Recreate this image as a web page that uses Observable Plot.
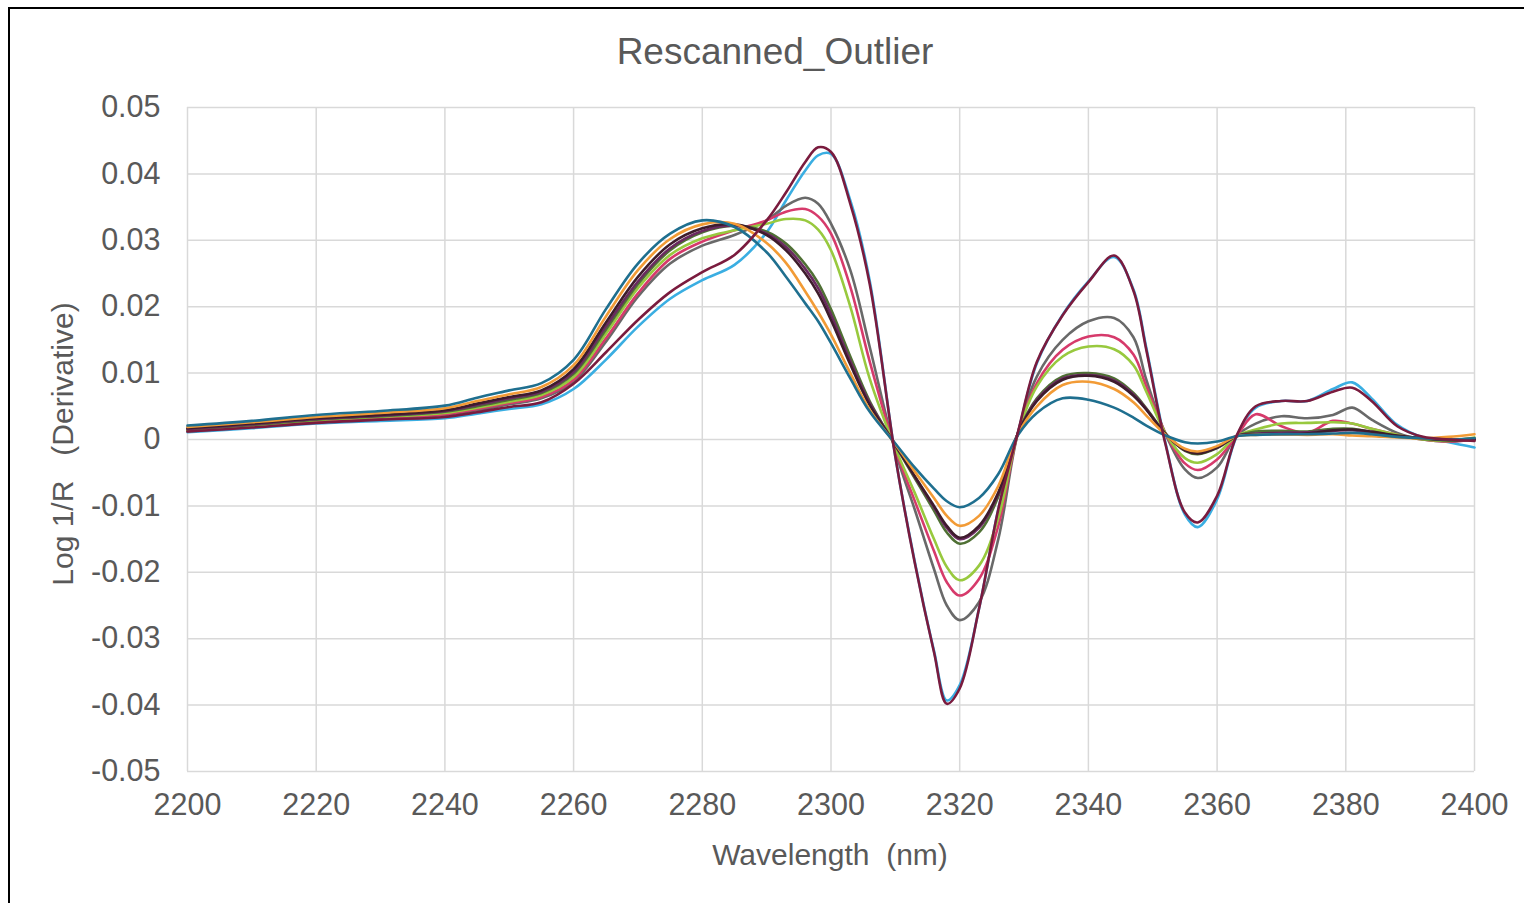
<!DOCTYPE html>
<html><head><meta charset="utf-8">
<script src="https://cdn.jsdelivr.net/npm/d3@7"></script>
<script src="https://cdn.jsdelivr.net/npm/@observablehq/plot@0.6"></script>
<style>
html,body{margin:0;padding:0;background:#fff;overflow:hidden;width:1524px;height:903px}
#frame{position:absolute;left:8px;top:7px;width:1600px;height:1000px;border:2px solid #000;box-sizing:border-box}
#chart{position:absolute;left:0;top:0}
.t{position:absolute;font-family:"Liberation Sans",Arial,sans-serif;color:#595959;white-space:pre}
</style></head><body>
<div id="frame"></div>
<div id="chart"></div>
<div class="t" style="left:0;width:1550px;text-align:center;top:31px;font-size:37px">Rescanned_Outlier</div>
<div class="t" style="left:530px;width:600px;text-align:center;top:838px;font-size:30px">Wavelength  (nm)</div>
<div class="t" style="left:63px;top:444px;font-size:30px;transform:translate(-50%,-50%) rotate(-90deg)">Log 1/R   (Derivative)</div>
<script>
const wavelengths = [2200,2210,2220,2230,2240,2245,2250,2255,2260,2265,2270,2275,2280,2285,2290,2293,2296,2298,2300,2303,2306,2310,2313,2316,2318,2320,2323,2326,2329,2332,2336,2340,2344,2347,2349,2352,2355,2357,2360,2363,2366,2370,2374,2378,2381,2384,2388,2392,2396,2400];

const xTicks = [2200,2220,2240,2260,2280,2300,2320,2340,2360,2380,2400];
const yTicks = [-0.05,-0.04,-0.03,-0.02,-0.01,0,0.01,0.02,0.03,0.04,0.05];

const lightBlue = [0.0011,0.0017,0.0024,0.0028,0.0032,0.0039,0.0046,0.0053,0.0076,0.0120,0.0170,0.0212,0.0240,0.0263,0.0312,0.0360,0.0405,0.0428,0.0430,0.0360,0.0240,-0.0026,-0.0183,-0.0318,-0.0393,-0.0370,-0.0255,-0.0105,0.0008,0.0115,0.0188,0.0238,0.0275,0.0226,0.0138,-0.0006,-0.0113,-0.0132,-0.0090,0.0004,0.0048,0.0058,0.0058,0.0076,0.0086,0.0062,0.0022,0.0003,-0.0004,-0.0012];
const gray = [0.0012,0.0019,0.0027,0.0032,0.0037,0.0044,0.0053,0.0062,0.0087,0.0147,0.0215,0.0265,0.0292,0.0308,0.0330,0.0352,0.0364,0.0355,0.0325,0.0255,0.0140,-0.0018,-0.0105,-0.0195,-0.0250,-0.0272,-0.0245,-0.0150,0.0008,0.0095,0.0150,0.0178,0.0183,0.0154,0.0090,0.0008,-0.0045,-0.0058,-0.0042,0.0005,0.0024,0.0035,0.0032,0.0037,0.0048,0.0030,0.0010,0.0000,-0.0003,0.0000];
const crimson = [0.0013,0.0020,0.0028,0.0033,0.0038,0.0046,0.0055,0.0064,0.0090,0.0152,0.0220,0.0272,0.0298,0.0315,0.0330,0.0343,0.0347,0.0336,0.0310,0.0230,0.0118,-0.0015,-0.0092,-0.0168,-0.0215,-0.0235,-0.0210,-0.0130,0.0008,0.0085,0.0135,0.0155,0.0154,0.0128,0.0080,0.0009,-0.0036,-0.0046,-0.0030,0.0005,0.0038,0.0020,0.0010,0.0028,0.0024,0.0016,0.0007,0.0000,-0.0003,0.0000];
const lightGreen = [0.0014,0.0021,0.0029,0.0034,0.0040,0.0048,0.0057,0.0067,0.0094,0.0159,0.0228,0.0278,0.0303,0.0315,0.0325,0.0332,0.0330,0.0316,0.0285,0.0200,0.0092,-0.0013,-0.0080,-0.0150,-0.0192,-0.0212,-0.0190,-0.0118,0.0008,0.0080,0.0125,0.0140,0.0136,0.0112,0.0072,0.0009,-0.0028,-0.0035,-0.0022,0.0005,0.0015,0.0024,0.0025,0.0026,0.0024,0.0016,0.0007,0.0000,-0.0002,0.0003];
const darkGreen = [0.0015,0.0022,0.0030,0.0035,0.0042,0.0050,0.0060,0.0070,0.0099,0.0165,0.0234,0.0285,0.0312,0.0322,0.0313,0.0295,0.0264,0.0236,0.0196,0.0125,0.0058,-0.0009,-0.0058,-0.0107,-0.0140,-0.0157,-0.0140,-0.0086,0.0008,0.0062,0.0095,0.0100,0.0092,0.0070,0.0047,0.0009,-0.0017,-0.0022,-0.0013,0.0005,0.0012,0.0013,0.0012,0.0016,0.0016,0.0011,0.0005,0.0001,-0.0001,0.0000];
const darkPurple = [0.0016,0.0023,0.0031,0.0036,0.0043,0.0052,0.0062,0.0072,0.0102,0.0170,0.0238,0.0288,0.0314,0.0322,0.0310,0.0290,0.0257,0.0228,0.0188,0.0118,0.0055,-0.0008,-0.0056,-0.0102,-0.0133,-0.0150,-0.0133,-0.0082,0.0008,0.0060,0.0092,0.0097,0.0089,0.0068,0.0046,0.0008,-0.0016,-0.0020,-0.0012,0.0005,0.0009,0.0010,0.0011,0.0013,0.0014,0.0010,0.0005,0.0002,0.0000,0.0001];
const darkBrown = [0.0017,0.0024,0.0032,0.0037,0.0044,0.0054,0.0064,0.0074,0.0106,0.0176,0.0245,0.0294,0.0318,0.0324,0.0308,0.0285,0.0250,0.0220,0.0180,0.0113,0.0052,-0.0008,-0.0055,-0.0100,-0.0130,-0.0148,-0.0130,-0.0080,0.0008,0.0058,0.0090,0.0096,0.0087,0.0066,0.0045,0.0008,-0.0016,-0.0021,-0.0012,0.0005,0.0008,0.0008,0.0009,0.0014,0.0015,0.0012,0.0006,0.0002,-0.0001,0.0000];
const orange = [0.0019,0.0026,0.0034,0.0040,0.0047,0.0058,0.0068,0.0079,0.0112,0.0185,0.0255,0.0302,0.0324,0.0325,0.0296,0.0266,0.0223,0.0192,0.0158,0.0100,0.0045,-0.0007,-0.0048,-0.0088,-0.0115,-0.0130,-0.0115,-0.0070,0.0007,0.0050,0.0082,0.0087,0.0076,0.0056,0.0036,0.0007,-0.0014,-0.0018,-0.0010,0.0005,0.0007,0.0008,0.0007,0.0008,0.0006,0.0005,0.0003,0.0002,0.0004,0.0008];
const teal = [0.0021,0.0028,0.0037,0.0043,0.0051,0.0063,0.0074,0.0085,0.0120,0.0196,0.0265,0.0310,0.0330,0.0320,0.0282,0.0245,0.0205,0.0178,0.0145,0.0092,0.0042,-0.0006,-0.0042,-0.0074,-0.0093,-0.0102,-0.0088,-0.0052,0.0006,0.0040,0.0062,0.0060,0.0048,0.0033,0.0021,0.0006,-0.0004,-0.0006,-0.0003,0.0005,0.0007,0.0008,0.0008,0.0009,0.0010,0.0008,0.0004,0.0002,0.0000,0.0002];
const maroon = [0.0012,0.0018,0.0025,0.0030,0.0034,0.0041,0.0049,0.0056,0.0084,0.0131,0.0180,0.0222,0.0252,0.0278,0.0330,0.0372,0.0418,0.0440,0.0433,0.0355,0.0235,-0.0026,-0.0185,-0.0320,-0.0398,-0.0375,-0.0255,-0.0105,0.0009,0.0117,0.0187,0.0237,0.0277,0.0224,0.0135,-0.0008,-0.0110,-0.0125,-0.0085,0.0005,0.0050,0.0058,0.0058,0.0072,0.0078,0.0058,0.0020,0.0004,0.0000,-0.0002];

const seriesNames = ["S10","S8","S7","S6","S5","S4","S3","S2","S1","S9"];
const seriesValues = [lightBlue, gray, crimson, lightGreen, darkGreen, darkPurple, darkBrown, orange, teal, maroon];
const seriesColors = ["#3aaee2","#696969","#d63a6b","#98c93e","#4f7034","#6a2a60","#3e1c2c","#f29b36","#1f6f8f","#7a1b3e"];

const rows = [];
seriesNames.forEach((name, k) => {
  seriesValues[k].forEach((v, i) => rows.push({name, wl: wavelengths[i], v}));
});

const fmtY = d => Math.abs(d) < 1e-9 ? "0" : d.toFixed(2);

const chart = Plot.plot({
  width: 1524,
  height: 903,
  marginLeft: 187,
  marginRight: 50,
  marginTop: 107,
  marginBottom: 132,
  style: {fontFamily: '"Liberation Sans", Arial, sans-serif', fontSize: "30.5px", color: "#595959", background: "transparent"},
  x: {domain: [2200, 2400]},
  y: {domain: [-0.05, 0.05]},
  color: {domain: seriesNames, range: seriesColors},
  marks: [
    Plot.gridX(xTicks, {stroke: "#d9d9d9", strokeOpacity: 1, strokeWidth: 1.5}),
    Plot.gridY(yTicks, {stroke: "#d9d9d9", strokeOpacity: 1, strokeWidth: 1.5}),
    Plot.axisX(xTicks, {tickSize: 0, tickPadding: 22, label: null, tickFormat: d => String(d), fill: "#595959"}),
    Plot.axisY(yTicks, {tickSize: 0, tickPadding: 27, label: null, tickFormat: fmtY, fill: "#595959"}),
    Plot.line(rows, {x: "wl", y: "v", z: "name", stroke: "name", strokeWidth: 2.6, curve: "catmull-rom"})
  ]
});
document.getElementById("chart").appendChild(chart);
</script>
</body></html>
